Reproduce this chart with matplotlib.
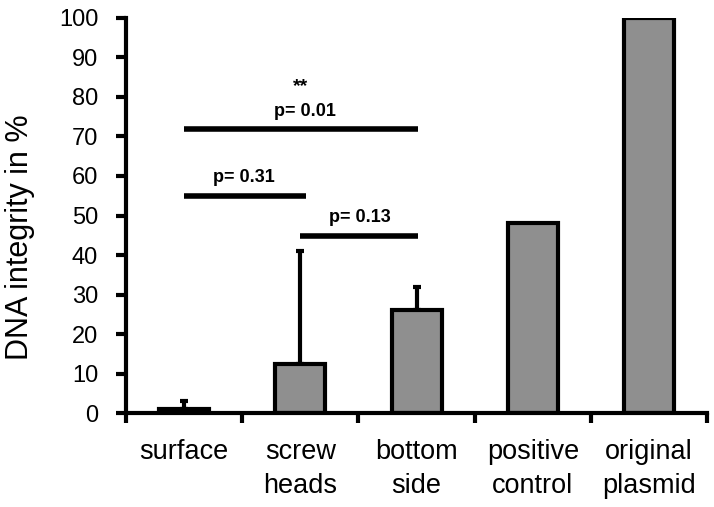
import numpy as np
import matplotlib.pyplot as plt

plt.rcParams['font.family'] = ['Liberation Sans', 'DejaVu Sans']

categories = ['surface', 'screw\nheads', 'bottom\nside', 'positive\ncontrol', 'original\nplasmid']
values = [1, 12.5, 26, 48, 100]
err_upper = [2, 28.5, 6, 0, 0]

# significance brackets: (x start, x end, y, label, label x)
sig_lines = [(0, 2.015, 71.8, 'p= 0.01', 1.04),
             (0, 1.045, 54.9, 'p= 0.31', 0.51),
             (1.0, 2.015, 44.8, 'p= 0.13', 1.51)]

fig = plt.figure(figsize=(7.14, 5.07), dpi=100)
ax = fig.add_axes([0.1765, 0.1854, 0.814, 0.7791])

x = np.arange(len(categories))
ax.bar(x, values, width=0.43, color='#8f8f8f', edgecolor='black', linewidth=3, zorder=2)

idx = [i for i in range(len(values)) if err_upper[i] > 0]
ax.errorbar(x[idx], [values[i] for i in idx],
            yerr=[[0] * len(idx), [err_upper[i] for i in idx]],
            fmt='none', ecolor='black', elinewidth=3, capsize=3, capthick=3, zorder=1)

for x0, x1, y, lab, xt in sig_lines:
    ax.plot([x0, x1], [y, y], color='black', linewidth=4, solid_capstyle='butt')
    ax.text(xt, y + 3.5, lab, ha='center', va='baseline', fontsize=13, fontweight='bold')
ax.text(1.0, 81.5, '**', ha='center', va='baseline', fontsize=14, fontweight='bold')

ax.set_xlim(-0.5, 4.5)
ax.set_ylim(0, 100)
ax.set_yticks(np.arange(0, 101, 10))
ax.set_xticks(x)
ax.set_xticklabels(categories, fontsize=19.5, linespacing=1.4)
ax.set_xticks(np.arange(-0.5, 4.6, 1), minor=True)
ax.tick_params(axis='x', which='major', length=0, pad=19)
ax.tick_params(axis='x', which='minor', length=7, width=3, direction='out')
ax.tick_params(axis='y', length=7, width=3, labelsize=17, pad=13)
ax.set_ylabel('DNA integrity in %', fontsize=22)
ax.yaxis.set_label_coords(-0.157, 0.444)

for s in ['top', 'right']:
    ax.spines[s].set_visible(False)
for s in ['left', 'bottom']:
    ax.spines[s].set_linewidth(3)

plt.savefig('out.png', dpi=100)
